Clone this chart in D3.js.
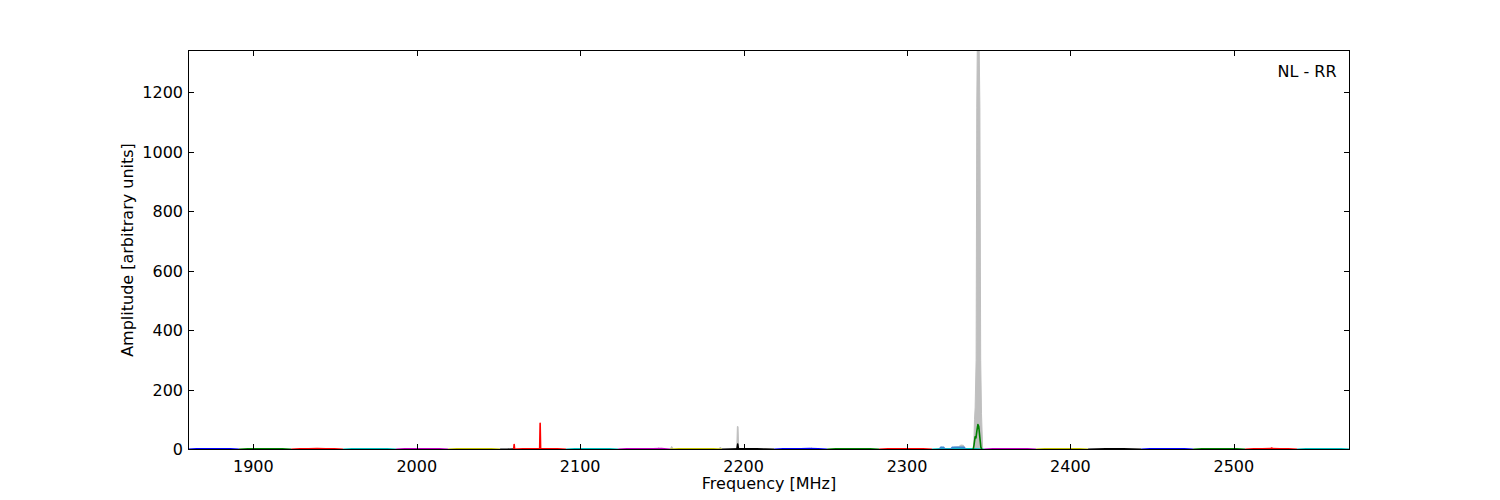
<!DOCTYPE html>
<html>
<head>
<meta charset="utf-8">
<script src="https://cdn.jsdelivr.net/npm/d3@7"></script>
<style>
  body { margin: 0; background: #fff; }
  text { font-family: "DejaVu Sans", sans-serif; font-size: 16px; fill: #000; }
</style>
</head>
<body>
<svg id="chart" width="1500" height="500"></svg>
<script>
// ---- data ----
const xTicks = [1900, 2000, 2100, 2200, 2300, 2400, 2500];
const yTicks = [0, 200, 400, 600, 800, 1000, 1200];

// sub-band edges [MHz] and line colours
const bandEdges = [1860.0, 1891.2, 1923.1, 1954.9, 1987.3, 2019.2, 2051.0, 2059.6, 2091.4,
  2123.2, 2155.0, 2186.8, 2218.7, 2251.1, 2282.9, 2315.3, 2347.2, 2379.0, 2410.8,
  2443.3, 2475.1, 2506.9, 2538.7, 2571.1];
const bandColors = ["#0000ff", "#008000", "#ff0000", "#00bfbf", "#bf00bf", "#bfbf00", "#000000",
  "#ff0000", "#00bfbf", "#bf00bf", "#bfbf00", "#000000", "#0000ff", "#008000", "#ff0000",
  "#00bfbf", "#bf00bf", "#bfbf00", "#000000", "#0000ff", "#008000", "#ff0000", "#00bfbf"];
// amplitude across each sub-band (evenly spaced channels)
const bandLevels = [
  [1.0, 2.0, 2.5, 2.5, 2.5, 2.0, 1.0],
  [1.0, 2.0, 2.0, 2.5, 2.0, 2.0, 1.0],
  [1.0, 2.0, 2.5, 3.0, 2.5, 2.0, 1.0],
  [1.0, 2.0, 2.0, 2.5, 2.0, 2.0, 1.0],
  [1.0, 2.0, 2.5, 2.5, 2.5, 2.0, 1.0],
  [1.0, 2.0, 2.0, 2.5, 2.0, 2.0, 1.0],
  [0.5, 1.0, 1.5],
  [1.0, 2.0, 2.0, 2.5, 2.0, 2.0, 1.0],
  [1.0, 2.0, 2.0, 2.5, 2.0, 2.0, 1.0],
  [1.0, 2.0, 2.5, 2.5, 2.5, 3.5, 1.0],
  [1.0, 2.0, 2.0, 2.5, 2.0, 2.0, 1.0],
  [0.5, 1.5, 2.0, 2.0, 2.0, 1.5, 0.5],
  [1.0, 2.0, 2.0, 2.5, 3.0, 2.0, 1.0],
  [1.0, 2.0, 2.0, 2.5, 2.0, 2.0, 1.0],
  [1.0, 2.0, 2.5, 2.5, 2.5, 2.0, 1.0],
  [1.0, 2.0, 2.0, 2.5, 2.0, 2.0, 1.0],
  [1.0, 2.0, 2.0, 2.5, 2.0, 2.0, 1.0],
  [1.0, 2.0, 2.0, 2.5, 2.0, 2.0, 1.0],
  [0.5, 1.5, 2.0, 2.0, 2.0, 1.5, 0.5],
  [1.0, 2.0, 2.0, 2.5, 2.0, 2.0, 1.0],
  [1.0, 2.0, 2.0, 2.5, 2.0, 2.0, 1.0],
  [1.0, 2.0, 2.5, 3.0, 2.5, 2.0, 1.0],
  [1.0, 2.0, 2.0, 2.5, 2.0, 2.0, 1.0]
];

// grey (max-hold) envelope
const greyFreq = [1860.0, 2146.0, 2148.0, 2150.0, 2155.0, 2156.0, 2157.0, 2184.5, 2185.8, 2187.0,
  2195.8, 2196.2, 2196.6, 2197.0, 2199.0, 2240.5, 2241.7, 2243.0, 2319.5, 2320.8, 2322.5,
  2327.0, 2329.0, 2331.5, 2333.0, 2334.5, 2336.0, 2340.8, 2341.3, 2341.7, 2342.3, 2342.7,
  2343.0, 2344.2, 2344.6, 2345.1, 2345.6, 2346.3, 2368.0, 2369.0, 2370.0, 2571.1];
const greyValues = [0, 0, 5, 0, 0, 10, 0, 0, 8, 0,
  0, 77, 77, 0, 0, 0, 5, 0, 0, 9, 0,
  0, 8, 9, 15, 14, 0, 0, 100, 140, 300, 1150,
  1342, 1342, 1150, 300, 120, 0, 0, 3, 0, 0];

// narrow spectral lines drawn over the sub-bands
const redSpikeFreq = [2059.3, 2059.6, 2059.9, 2075.2, 2075.5, 2075.8];
const redSpikeValues = [0, 17, 0, 0, 88, 0];
const blackSpikeFreq = [2195.9, 2196.4, 2196.9];
const blackSpikeValues = [0, 18, 0];
const blueBumpFreq = [2319.8, 2320.6, 2322.5, 2323.4, 2326.8, 2327.6, 2331.0, 2335.0, 2336.0];
const blueBumpValues = [0, 7, 7, 0, 0, 7, 7, 7, 0];
const greenPeakFreq = [2340.5, 2341.0, 2341.7, 2342.2, 2342.7, 2343.4, 2343.9, 2344.5, 2345.2, 2345.8];
const greenPeakValues = [0, 15, 43, 39, 60, 84, 78, 45, 8, 0];
const redBumpFreq = [2522.6, 2523.2, 2523.8];
const redBumpValues = [2, 5, 2];

// ---- layout ----
const svg = d3.select("#chart");
const L = 188, R = 1350, T = 50, B = 450;
const x = d3.scaleLinear().domain([1860, 2571.1]).range([L, R]);
const y = d3.scaleLinear().domain([-1.7, 1342]).range([B, T]);

svg.append("defs").append("clipPath").attr("id", "plotclip")
  .append("rect").attr("x", L).attr("y", T).attr("width", R - L).attr("height", B - T);
const plot = svg.append("g").attr("clip-path", "url(#plotclip)");

// grey envelope
const greyPts = greyFreq.map((f, i) => [f, greyValues[i]]);
plot.append("path")
  .datum(greyPts)
  .attr("d", d3.area().x(d => x(d[0])).y0(y(0)).y1(d => y(d[1])))
  .attr("fill", "#bfbfbf")
  .attr("stroke", "#bfbfbf")
  .attr("stroke-width", 1);

const line = d3.line().x(d => x(d[0])).y(d => y(d[1]));

// sub-bands
bandLevels.forEach((vals, i) => {
  const f0 = bandEdges[i], f1 = bandEdges[i + 1];
  const pts = vals.map((v, j) => [f0 + j * (f1 - f0) / (vals.length - 1), v]);
  plot.append("path").datum(pts).attr("d", line)
    .attr("fill", "none").attr("stroke", bandColors[i]).attr("stroke-width", 1.6);
});

function drawSeries(fr, vals, color) {
  const pts = fr.map((f, i) => [f, vals[i]]);
  plot.append("path").datum(pts).attr("d", line)
    .attr("fill", "none").attr("stroke", color).attr("stroke-width", 1.6)
    .attr("stroke-linejoin", "round");
}
drawSeries(blueBumpFreq, blueBumpValues, "#3a8ad6");
drawSeries(redSpikeFreq, redSpikeValues, "#ff0000");
drawSeries(blackSpikeFreq, blackSpikeValues, "#000000");
drawSeries(redBumpFreq, redBumpValues, "#ff0000");
drawSeries(greenPeakFreq, greenPeakValues, "#008000");

// frame
svg.append("rect").attr("x", L + 0.5).attr("y", T + 0.5)
  .attr("width", R - L - 1).attr("height", B - T - 1)
  .attr("fill", "none").attr("stroke", "#000").attr("stroke-width", 1);

// ticks (inward on all sides)
const tl = 6;
const tg = svg.append("g").attr("stroke", "#000").attr("stroke-width", 1);
xTicks.forEach(t => {
  const px = Math.round(x(t)) + 0.5;
  tg.append("line").attr("x1", px).attr("x2", px).attr("y1", B).attr("y2", B - tl);
  tg.append("line").attr("x1", px).attr("x2", px).attr("y1", T).attr("y2", T + tl);
  svg.append("text").attr("x", x(t)).attr("y", 472).attr("text-anchor", "middle").text(t);
});
yTicks.forEach(t => {
  const py = Math.round(y(t)) + 0.5;
  tg.append("line").attr("x1", L).attr("x2", L + tl).attr("y1", py).attr("y2", py);
  tg.append("line").attr("x1", R).attr("x2", R - tl).attr("y1", py).attr("y2", py);
  svg.append("text").attr("x", 183).attr("y", y(t) + 5.8).attr("text-anchor", "end").text(t);
});

// labels
svg.append("text").attr("x", (L + R) / 2).attr("y", 489).attr("text-anchor", "middle")
  .text("Frequency [MHz]");
svg.append("text").attr("transform", "translate(133,250) rotate(-90)")
  .attr("text-anchor", "middle").text("Amplitude [arbitrary units]");
svg.append("text").attr("x", 1336.5).attr("y", 76.5).attr("text-anchor", "end").text("NL - RR");
</script>
</body>
</html>
